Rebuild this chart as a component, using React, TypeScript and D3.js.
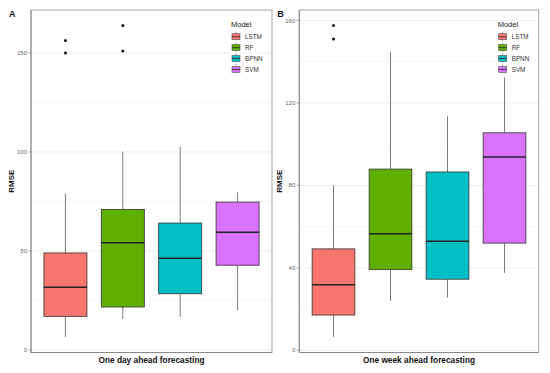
import React from "react";
import * as d3 from "d3";

const models = ["LSTM", "RF", "BPNN", "SVM"];
const colors = ["#F8766D", "#5FAE00", "#00BFC4", "#DB72FB"];

// One day ahead: [lowWhisker, Q1, median, Q3, highWhisker]
const dayLow = [6.6, 15.7, 16.8, 20.2];
const dayQ1 = [17, 21.7, 28.4, 42.8];
const dayMed = [31.7, 54.2, 46.3, 59.4];
const dayQ3 = [49, 71, 64.1, 74.7];
const dayHigh = [79, 100.2, 102.5, 79.6];
const dayOutliers = [[156.2, 150], [163.8, 151], [], []];
const dayTicks = [0, 50, 100, 150];

// One week ahead
const weekLow = [6.5, 24, 25.6, 37.6];
const weekQ1 = [17.1, 39.2, 34.5, 52];
const weekMed = [31.8, 56.6, 52.9, 93.8];
const weekQ3 = [49.2, 87.9, 86.5, 105.5];
const weekHigh = [79.9, 144.6, 113.5, 132.3];
const weekOutliers = [[157.5, 151], [], [], []];
const weekTicks = [0, 40, 80, 120, 160];

const FONT = "'Liberation Sans', Arial, sans-serif";

type PanelProps = {
  left: number; right: number; top: number; bottom: number;
  low: number[]; q1: number[]; med: number[]; q3: number[]; high: number[];
  outliers: number[][]; ticks: number[]; label: string; xTitle: string;
};

function Panel(p: PanelProps) {
  const allVals = [...p.low, ...p.high, ...p.outliers.flat()];
  const mn = d3.min(allVals)!, mx = d3.max(allVals)!;
  const ex = (mx - mn) * 0.05;
  const y = d3.scaleLinear().domain([mn - ex, mx + ex]).range([p.bottom, p.top]);
  const x = d3.scalePoint<string>().domain(models).range([p.left, p.right]).padding(0.6);
  const bw = x.step() * 0.75;
  const minor = p.ticks.slice(0, -1).map((t, i) => (t + p.ticks[i + 1]) / 2)
    .concat([p.ticks[p.ticks.length - 1] + (p.ticks[1] - p.ticks[0]) / 2])
    .filter(v => y(v) >= p.top);
  const ax = p.left;
  return (
    <g>
      {minor.map(v => (
        <line key={"mi" + v} x1={p.left} x2={p.right} y1={y(v)} y2={y(v)} stroke="#f3f3f3" strokeWidth={0.6} />
      ))}
      {p.ticks.map(v => (
        <line key={"ma" + v} x1={p.left} x2={p.right} y1={y(v)} y2={y(v)} stroke="#e8e8e8" strokeWidth={0.7} />
      ))}
      {models.map((m, i) => {
        const cx = x(m)!;
        return (
          <g key={m}>
            <line x1={cx} x2={cx} y1={y(p.high[i])} y2={y(p.q3[i])} stroke="#444" strokeWidth={0.7} />
            <line x1={cx} x2={cx} y1={y(p.q1[i])} y2={y(p.low[i])} stroke="#444" strokeWidth={0.7} />
            <rect x={cx - bw / 2} y={y(p.q3[i])} width={bw} height={y(p.q1[i]) - y(p.q3[i])}
              fill={colors[i]} stroke="#333" strokeWidth={0.8} />
            <line x1={cx - bw / 2} x2={cx + bw / 2} y1={y(p.med[i])} y2={y(p.med[i])} stroke="#222" strokeWidth={1.5} />
            {p.outliers[i].map((o, j) => (
              <circle key={j} cx={cx} cy={y(o)} r={1.5} fill="#111" />
            ))}
          </g>
        );
      })}
      <rect x={p.left} y={p.top} width={p.right - p.left} height={p.bottom - p.top} fill="none" stroke="#a3a3a3" strokeWidth={1} />
      <line x1={p.left} x2={p.right} y1={p.bottom} y2={p.bottom} stroke="#8a8a8a" strokeWidth={1} />
      <line x1={ax} x2={ax} y1={p.top} y2={p.bottom} stroke="#8a8a8a" strokeWidth={1} />
      {p.ticks.map(v => (
        <g key={"t" + v}>
          <line x1={ax - 2.5} x2={ax} y1={y(v)} y2={y(v)} stroke="#777" strokeWidth={0.7} />
          <text x={ax - 4} y={y(v)} dy="0.35em" textAnchor="end" fontSize={6} fill="#666" fontFamily={FONT}>{v}</text>
        </g>
      ))}
      <text transform={`translate(${p.left - 17},${(p.top + p.bottom) / 2}) rotate(-90)`} textAnchor="middle"
        fontSize={8} fontWeight="bold" fill="#111" fontFamily={FONT}>RMSE</text>
      <text x={(p.left + p.right) / 2} y={p.bottom + 10} textAnchor="middle" fontSize={8.3} fontWeight="bold" fill="#111" fontFamily={FONT}>{p.xTitle}</text>
      <text x={p.left - 22} y={p.top + 7} fontSize={9} fontWeight="bold" fill="#111" fontFamily={FONT}>{p.label}</text>
      <g transform={`translate(${p.right - 41},${p.top})`}>
        <text x={0} y={17} fontSize={7.5} fill="#222" fontFamily={FONT}>Model</text>
        {models.map((m, i) => {
          const ky = 22.7 + i * 10.9;
          return (
            <g key={m}>
              <line x1={5} x2={5} y1={ky - 1} y2={ky + 8} stroke="#555" strokeWidth={0.6} />
              <rect x={1} y={ky + 1} width={8} height={6} fill={colors[i]} stroke="#555" strokeWidth={0.6} />
              <line x1={1} x2={9} y1={ky + 4} y2={ky + 4} stroke="#333" strokeWidth={0.9} />
              <text x={14} y={ky + 4} dy="0.35em" fontSize={6.3} fill="#333" fontFamily={FONT}>{m}</text>
            </g>
          );
        })}
      </g>
    </g>
  );
}

export default function App() {
  return (
    <svg width={550} height={373} style={{ position: "absolute", left: 0, top: 0, background: "#fff" }}>
      <rect width={550} height={373} fill="#fff" />
      <Panel left={31} right={272} top={10} bottom={352.5}
        low={dayLow} q1={dayQ1} med={dayMed} q3={dayQ3} high={dayHigh}
        outliers={dayOutliers} ticks={dayTicks} label="A" xTitle="One day ahead forecasting" />
      <Panel left={299.3} right={538.7} top={10} bottom={352.5}
        low={weekLow} q1={weekQ1} med={weekMed} q3={weekQ3} high={weekHigh}
        outliers={weekOutliers} ticks={weekTicks} label="B" xTitle="One week ahead forecasting" />
    </svg>
  );
}
